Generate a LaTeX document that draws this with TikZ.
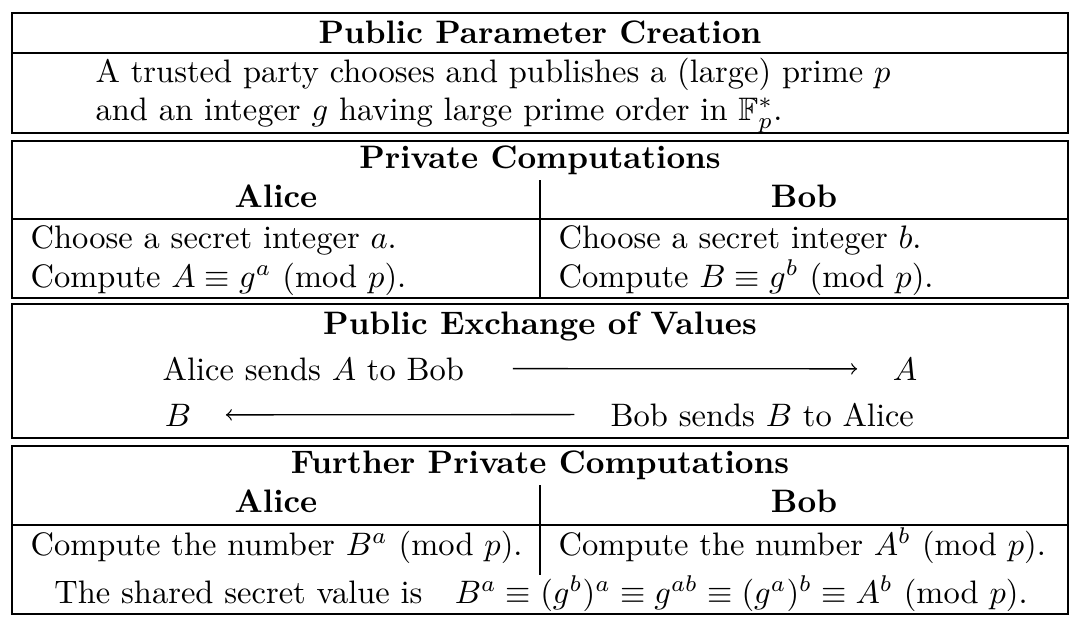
\documentclass[tikz,border=0pt]{standalone}
\usepackage{amsmath}
\usepackage{amssymb}
\usetikzlibrary{positioning}

\begin{document}
\begin{tikzpicture}[x=0.3077pt, y=-0.3077pt,
    every node/.style={inner sep=0pt},
    head/.style={anchor=base, font=\bfseries},
    txt/.style={anchor=base west},
    mid/.style={anchor=base}]
  \useasboundingbox (0,0) rectangle (1084,632);
  % the four frames
  \draw (12,13) rectangle (1068,133);
  \draw (12,53) -- (1068,53);
  \draw (12,141) rectangle (1068,298);
  \draw (12,219) -- (1068,219);
  \draw (540,180) -- (540,298);
  \draw (12,304) rectangle (1068,438);
  \draw (12,446) rectangle (1068,614);
  \draw (12,525) -- (1068,525);
  \draw (540,485) -- (540,575);
  % public parameters
  \node[head] (pubhead) at (540,43) {Public Parameter Creation};
  \node[txt] (pubone) at (95,82) {A trusted party chooses and publishes a (large) prime $p$};
  \node[txt] (pubtwo) at (95,120) {and an integer $g$ having large prime order in $\mathbb{F}_p^*$.};
  % private computations
  \node[head] (privhead) at (540,168) {Private Computations};
  \foreach \who/\x in {Alice/276,Bob/804} {
    \node[head] (priv\who) at (\x,207) {\who};
    \node[head] (further\who) at (\x,512) {\who};
  }
  \node[txt] (alicea) at (30,248) {Choose a secret integer $a$.};
  \node[txt] (aliceA) at (30,287) {Compute $A \equiv g^a$ (mod $p$).};
  \node[txt] (bobb) at (558,248) {Choose a secret integer $b$.};
  \node[txt] (bobB) at (558,287) {Compute $B \equiv g^b$ (mod $p$).};
  % exchange
  \node[head] (xhead) at (540,334) {Public Exchange of Values};
  \node[txt] (sendA) at (162,380) {Alice sends $A$ to Bob};
  \node[mid] (getA) at (905,380) {$A$};
  \node[mid] (getB) at (178,426) {$B$};
  \node[txt] (sendB) at (610,426) {Bob sends $B$ to Alice};
  \draw[->, shorten <=14.8pt, shorten >=10.8pt] (sendA.east) -- (getA.west);
  \draw[->, shorten <=11pt, shorten >=10.5pt] (sendB.west) -- (getB.east);
  % further computations
  \node[head] (furtherhead) at (540,473) {Further Private Computations};
  \node[txt] (aliceBa) at (30,555) {Compute the number $B^a$ (mod $p$).};
  \node[txt] (bobAb) at (558,555) {Compute the number $A^b$ (mod $p$).};
  \node[mid] (shared) at (541,603) {The shared secret value is\quad $B^a \equiv (g^b)^a \equiv g^{ab} \equiv (g^a)^b \equiv A^b$ (mod $p$).};
\end{tikzpicture}
\end{document}
